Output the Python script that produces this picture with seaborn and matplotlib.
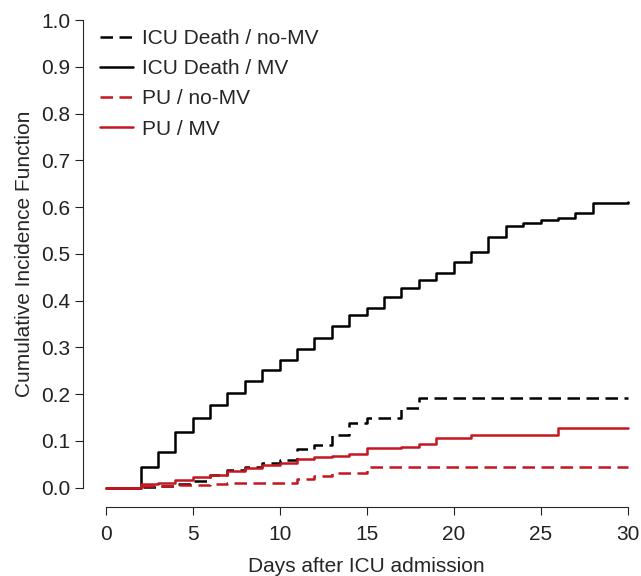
import matplotlib
matplotlib.use("Agg")
import matplotlib.pyplot as plt
import pandas as pd
import seaborn as sns

# cumulative incidence, one value per day 0..30
days = list(range(31))
death_nomv = [0, 0, 0.002, 0.004, 0.008, 0.015, 0.027, 0.038, 0.044, 0.052,
              0.059, 0.082, 0.091, 0.113, 0.138, 0.150, 0.150, 0.170, 0.191, 0.191,
              0.191, 0.191, 0.191, 0.191, 0.191, 0.191, 0.191, 0.191, 0.191, 0.191,
              0.191]
death_mv = [0, 0, 0.044, 0.077, 0.120, 0.150, 0.177, 0.203, 0.228, 0.252,
            0.274, 0.297, 0.321, 0.346, 0.370, 0.384, 0.407, 0.428, 0.444, 0.460,
            0.483, 0.503, 0.535, 0.560, 0.567, 0.572, 0.577, 0.587, 0.608, 0.608,
            0.611]
pu_nomv = [0, 0, 0.003, 0.003, 0.005, 0.006, 0.008, 0.009, 0.010, 0.011,
           0.011, 0.019, 0.024, 0.031, 0.031, 0.044, 0.044, 0.044, 0.044, 0.044,
           0.044, 0.044, 0.044, 0.044, 0.044, 0.044, 0.044, 0.044, 0.044, 0.044,
           0.044]
pu_mv = [0, 0, 0.0085, 0.011, 0.017, 0.023, 0.028, 0.035, 0.042, 0.049,
         0.052, 0.061, 0.065, 0.068, 0.072, 0.084, 0.084, 0.088, 0.093, 0.106,
         0.106, 0.113, 0.113, 0.113, 0.113, 0.113, 0.127, 0.127, 0.127, 0.127,
         0.127]

labels = ['ICU Death / no-MV', 'ICU Death / MV', 'PU / no-MV', 'PU / MV']
series = [death_nomv, death_mv, pu_nomv, pu_mv]

RED = '#C4161F'
colors = ['black', 'black', RED, RED]
dashed = (0, (5, 2.6))
styles = [dashed, '-', dashed, '-']

sns.set_style('ticks')
plt.rcParams['font.family'] = ['Liberation Sans', 'DejaVu Sans']
plt.rcParams['font.size'] = 15

fig = plt.figure(figsize=(6.41, 5.76), dpi=100)
ax = fig.add_axes([105.7 / 641, 88.3 / 576, 522 / 641, 467.7 / 576])

for lab, vals, c, ls in zip(labels, series, colors, styles):
    df = pd.DataFrame({'day': days, 'cif': vals})
    sns.lineplot(data=df, x='day', y='cif', ax=ax, estimator=None,
                 drawstyle='steps-post', color=c, linestyle=ls,
                 linewidth=1.8, label=lab, clip_on=False)

ax.set_xlim(0, 30)
ax.set_ylim(0, 1)
ax.set_xticks([0, 5, 10, 15, 20, 25, 30])
ax.set_yticks([i / 10 for i in range(11)])
ax.set_yticklabels(['%.1f' % (i / 10) for i in range(11)])

# R-style detached axes
sns.despine(ax=ax)
ax.spines['left'].set_position(('outward', 16))
ax.spines['bottom'].set_position(('outward', 13.7))
for s in ['left', 'bottom']:
    ax.spines[s].set_linewidth(0.8)
ax.tick_params(axis='both', length=5.5, width=0.8, labelsize=15, colors='#222222')
ax.tick_params(axis='y', pad=4)
ax.tick_params(axis='x', pad=8)

ax.set_xlabel('Days after ICU admission', fontsize=15, labelpad=9)
ax.set_ylabel('Cumulative Incidence Function', fontsize=15, labelpad=5)

ax.legend(loc='upper left', bbox_to_anchor=(-0.011, 0.981), frameon=False,
          borderaxespad=0, borderpad=0, handlelength=1.6, handletextpad=0.4,
          labelspacing=0.54, fontsize=15)

fig.savefig('out.png', dpi=100)
